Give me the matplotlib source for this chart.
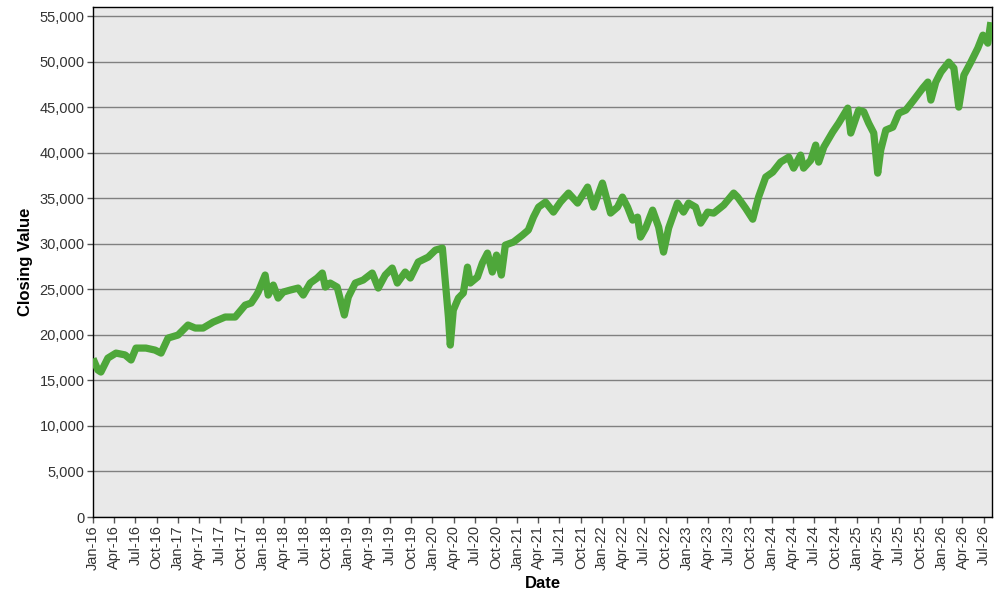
import matplotlib
matplotlib.use("Agg")
import matplotlib.pyplot as plt
import matplotlib.dates as mdates
from matplotlib.ticker import FuncFormatter
import pandas as pd

dates = [
    "2016-01-01", "2016-01-22", "2016-02-04", "2016-03-05", "2016-04-09", "2016-05-18",
    "2016-06-13", "2016-07-04", "2016-08-16", "2016-09-24", "2016-10-20", "2016-11-19",
    "2017-01-01", "2017-02-13", "2017-03-16", "2017-04-19", "2017-06-01", "2017-07-23",
    "2017-09-04", "2017-10-17", "2017-11-12", "2017-12-03", "2017-12-12", "2018-01-11",
    "2018-01-24", "2018-02-15", "2018-03-08", "2018-03-30", "2018-04-29", "2018-06-02",
    "2018-06-24", "2018-07-24", "2018-08-23", "2018-09-14", "2018-09-27", "2018-10-18",
    "2018-11-17", "2018-12-18", "2019-01-04", "2019-02-03", "2019-03-09", "2019-04-17",
    "2019-05-13", "2019-06-12", "2019-07-12", "2019-08-03", "2019-09-06", "2019-09-28",
    "2019-11-01", "2019-12-14", "2020-01-14", "2020-02-13", "2020-02-26", "2020-03-10",
    "2020-03-18", "2020-03-31", "2020-04-22", "2020-05-13", "2020-05-31", "2020-06-12",
    "2020-07-13", "2020-08-03", "2020-08-25", "2020-09-15", "2020-10-03", "2020-10-24",
    "2020-11-10", "2020-12-15", "2021-01-23", "2021-02-17", "2021-03-11", "2021-04-02",
    "2021-05-02", "2021-06-05", "2021-07-05", "2021-08-09", "2021-09-17", "2021-10-30",
    "2021-11-25", "2022-01-02", "2022-02-06", "2022-03-08", "2022-03-29", "2022-04-20",
    "2022-05-12", "2022-06-02", "2022-06-15", "2022-07-07", "2022-08-06", "2022-09-01",
    "2022-09-22", "2022-10-14", "2022-11-21", "2022-12-17", "2023-01-08", "2023-02-07",
    "2023-03-01", "2023-03-31", "2023-04-26", "2023-06-08", "2023-07-21", "2023-08-07",
    "2023-09-10", "2023-10-11", "2023-11-05", "2023-12-06", "2024-01-05", "2024-02-08",
    "2024-03-14", "2024-04-04", "2024-05-04", "2024-05-17", "2024-06-17", "2024-07-08",
    "2024-07-21", "2024-08-12", "2024-09-19", "2024-10-15", "2024-11-23", "2024-12-06",
    "2025-01-09", "2025-01-31", "2025-02-21", "2025-03-15", "2025-04-01", "2025-04-14",
    "2025-05-06", "2025-06-05", "2025-07-01", "2025-07-31", "2025-09-03", "2025-10-12",
    "2025-11-03", "2025-11-16", "2025-12-07", "2025-12-29", "2026-02-01", "2026-02-23",
    "2026-03-16", "2026-04-07", "2026-05-07", "2026-06-06", "2026-06-28", "2026-07-19",
    "2026-08-01",
]
closing = [
    17400, 16140, 15920, 17450, 18000, 17800,
    17240, 18550, 18550, 18330, 18000, 19650,
    19980, 21080, 20750, 20750, 21400, 21960,
    21960, 23270, 23500, 24300, 24700, 26570,
    24370, 25470, 24040, 24700, 24920, 25140,
    24370, 25690, 26240, 26790, 25250, 25690,
    25250, 22180, 24150, 25690, 26020, 26790,
    25140, 26570, 27340, 25690, 26900, 26240,
    28000, 28540, 29310, 29530, 25690, 21960,
    18880, 22720, 24040, 24590, 27440, 25690,
    26350, 27880, 28980, 26900, 28760, 26570,
    29860, 30190, 30960, 31510, 32930, 34030,
    34580, 33480, 34580, 35570, 34470, 36230,
    34030, 36670, 33370, 34030, 35130, 34030,
    32600, 32930, 30740, 31730, 33700, 31840,
    29090, 31730, 34470, 33480, 34470, 34030,
    32270, 33480, 33370, 34250, 35570, 35130,
    33920, 32700, 35130, 37330, 37870, 38970,
    39520, 38310, 39740, 38310, 39190, 40840,
    38970, 40620, 42270, 43250, 44900, 42160,
    44680, 44500, 43250, 42160, 37760, 40290,
    42490, 42810, 44350, 44680, 45780, 47100,
    47760, 45780, 47760, 48850, 49950, 49290,
    45010, 48520, 49950, 51490, 52910, 52030,
    54340,
]
y_ticks = list(range(0, 55001, 5000))
x_start = "2016-01-01"
x_end = "2026-08-06"

plt.rcParams['font.family'] = ['Liberation Sans', 'DejaVu Sans']

fig = plt.figure(figsize=(10, 6), dpi=100)
ax = fig.add_axes([0.093, 0.1383, 0.899, 0.850])
ax.set_facecolor('#e9e9e9')

x = pd.to_datetime(dates)
ax.plot(x, closing, color='#4ea73a', linewidth=5.2, solid_joinstyle='round',
        solid_capstyle='butt', zorder=3)

ax.set_ylim(0, 56000)
ax.set_xlim(pd.Timestamp(x_start), pd.Timestamp(x_end))
ax.set_yticks(y_ticks)
ax.yaxis.set_major_formatter(FuncFormatter(lambda v, p: f"{int(v):,}"))
ax.xaxis.set_major_locator(mdates.MonthLocator(bymonth=[1, 4, 7, 10]))
ax.xaxis.set_major_formatter(mdates.DateFormatter('%b-%y'))
ax.grid(axis='y', color='#808080', linewidth=1.0, zorder=1)
ax.set_axisbelow(True)

for lab in ax.get_xticklabels():
    lab.set_rotation(90)
ax.tick_params(axis='both', labelsize=10.5, length=4, width=1, color='#555555', pad=2,
               labelcolor='#333333')

for s in ax.spines.values():
    s.set_color('#000000')
    s.set_linewidth(1.0)

ax.set_xlabel('Date', fontsize=12, fontweight='bold', labelpad=4)
ax.set_ylabel('Closing Value', fontsize=12, fontweight='bold', labelpad=5)

fig.savefig('out.png', dpi=100)
